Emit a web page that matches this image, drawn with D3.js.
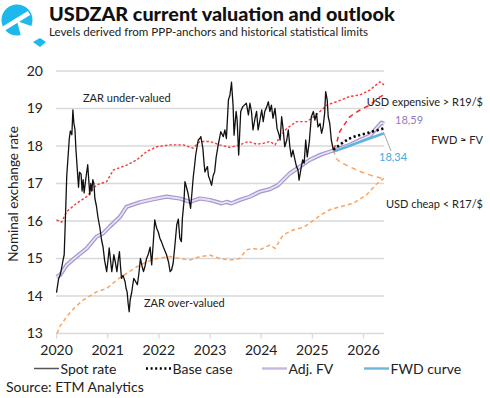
<!DOCTYPE html>
<html><head><meta charset="utf-8">
<script src="https://cdn.jsdelivr.net/npm/d3@7"></script>
<style>
html,body{margin:0;padding:0;background:#fff;}
svg{display:block;font-family:Lato,"Open Sans",sans-serif;}
</style></head>
<body>
<svg id="chart" width="490" height="398"></svg>
<script>
// ---- data (year fraction, value) ----
const yTicks = [13,14,15,16,17,18,19,20];
const xTicks = [2020,2021,2022,2023,2024,2025,2026];
const seriesNames = ["Spot rate","Base case","Adj. FV","FWD curve"];

const spotT = [2020.01,2020.05,2020.09,2020.13,2020.16,2020.18,2020.21,2020.24,2020.26,2020.28,2020.31,2020.33,2020.35,2020.37,2020.39,2020.41,2020.44,2020.46,2020.49,2020.51,2020.53,2020.55,2020.58,2020.60,2020.62,2020.64,2020.66,2020.68,2020.70,2020.72,2020.74,2020.76,2020.79,2020.82,2020.86,2020.89,2020.92,2020.95,2020.99,2021.02,2021.04,2021.07,2021.09,2021.11,2021.13,2021.16,2021.19,2021.22,2021.24,2021.26,2021.28,2021.31,2021.35,2021.37,2021.39,2021.41,2021.43,2021.45,2021.48,2021.50,2021.52,2021.55,2021.59,2021.62,2021.65,2021.68,2021.71,2021.74,2021.77,2021.80,2021.84,2021.87,2021.90,2021.93,2021.95,2021.97,2022.00,2022.03,2022.06,2022.10,2022.13,2022.16,2022.20,2022.23,2022.26,2022.29,2022.32,2022.36,2022.39,2022.42,2022.45,2022.47,2022.50,2022.52,2022.55,2022.58,2022.61,2022.63,2022.66,2022.68,2022.71,2022.73,2022.76,2022.78,2022.81,2022.83,2022.87,2022.89,2022.91,2022.94,2022.96,2022.98,2023.01,2023.04,2023.07,2023.10,2023.13,2023.17,2023.22,2023.27,2023.30,2023.33,2023.37,2023.40,2023.43,2023.46,2023.48,2023.52,2023.54,2023.57,2023.61,2023.65,2023.72,2023.76,2023.79,2023.82,2023.85,2023.89,2023.92,2023.95,2023.98,2024.02,2024.05,2024.08,2024.12,2024.15,2024.18,2024.21,2024.24,2024.28,2024.32,2024.36,2024.38,2024.41,2024.44,2024.47,2024.51,2024.54,2024.57,2024.60,2024.63,2024.67,2024.70,2024.73,2024.75,2024.79,2024.82,2024.85,2024.88,2024.91,2024.95,2024.99,2025.03,2025.06,2025.09,2025.12,2025.16,2025.19,2025.22,2025.25,2025.27,2025.30,2025.32,2025.35,2025.38,2025.42];
const spotV = [14.09,14.45,14.6,14.9,15.1,15.9,17.2,17.8,18.2,18.4,18.3,18.96,18.6,18.45,17.9,17.5,16.9,17.3,17.25,16.8,17.1,16.75,17.1,17.3,17.5,17.1,16.7,17.0,16.8,17.1,17.0,16.6,16.4,16.1,15.8,15.5,15.3,14.95,14.65,15.0,15.28,14.9,14.65,14.85,15.1,14.9,14.65,15.0,15.18,14.8,14.47,14.55,14.38,14.2,14.11,13.8,13.58,13.9,14.1,14.3,14.47,14.4,14.3,14.6,15.0,14.8,14.65,14.8,15.0,15.1,15.3,14.83,15.4,16.03,15.9,15.8,15.7,15.54,15.45,15.3,15.2,15.1,14.9,14.65,14.7,14.88,15.3,15.9,16.05,15.54,15.45,16.07,16.5,17.05,16.9,16.74,16.5,16.34,16.8,17.14,17.5,17.76,18.0,18.16,18.2,18.25,17.94,17.6,17.31,17.4,17.45,17.2,17.09,16.95,17.2,17.31,17.7,18.03,18.38,18.25,18.43,18.2,19.23,19.36,19.7,19.09,18.29,18.92,18.7,17.76,18.92,19.05,19.14,18.83,19.14,18.92,18.43,18.74,18.92,18.43,18.65,18.96,18.65,18.92,19.05,19.18,18.92,19.09,18.74,19.0,18.47,18.29,18.16,18.78,18.43,17.98,18.16,18.43,17.98,17.71,17.89,17.63,17.45,17.36,17.09,17.41,17.63,17.54,18.16,17.71,18.11,18.78,18.92,18.69,18.87,18.51,18.6,18.34,18.51,18.87,19.45,19.23,18.78,18.6,18.16,17.9];

const upperT = [2020.01,2020.11,2020.21,2020.40,2020.60,2020.79,2020.99,2021.12,2021.38,2021.58,2021.77,2021.97,2022.23,2022.49,2022.68,2022.81,2023.01,2023.20,2023.40,2023.59,2023.76,2023.92,2024.05,2024.18,2024.28,2024.38,2024.51,2024.70,2024.90,2025.09,2025.29,2025.48,2025.74,2025.94,2026.13,2026.33,2026.41];
const upperV = [16.03,15.97,16.25,16.47,16.65,16.96,17.05,17.36,17.49,17.63,17.85,17.98,18.03,18.03,17.94,18.12,18.12,18.03,17.96,18.03,18.12,18.05,18.07,18.12,18.03,18.25,18.47,18.65,18.65,18.83,19.09,19.18,19.32,19.36,19.49,19.71,19.63];

const lowerT = [2020.02,2020.08,2020.21,2020.37,2020.53,2020.79,2020.99,2021.19,2021.38,2021.58,2021.77,2021.97,2022.23,2022.42,2022.62,2022.81,2023.01,2023.20,2023.40,2023.59,2023.72,2023.85,2023.98,2024.18,2024.28,2024.44,2024.63,2024.83,2024.96,2025.16,2025.35,2025.55,2025.81,2026.07,2026.26,2026.41];
const lowerV = [13.0,13.2,13.45,13.7,13.89,14.11,14.2,14.43,14.6,14.78,14.91,15.0,15.05,15.0,14.96,15.05,15.09,15.0,14.96,15.0,15.23,15.27,15.23,15.36,15.27,15.63,15.76,15.83,15.94,16.15,16.3,16.38,16.47,16.7,16.98,17.14];

const fvT = [2020.01,2020.08,2020.21,2020.40,2020.60,2020.79,2020.92,2021.05,2021.25,2021.38,2021.64,2021.90,2022.16,2022.42,2022.62,2022.81,2023.01,2023.24,2023.33,2023.43,2023.59,2023.79,2023.98,2024.18,2024.34,2024.57,2024.77,2024.96,2025.16,2025.35,2025.55,2025.74,2025.94,2026.13,2026.26,2026.36,2026.41];
const fvV = [14.51,14.56,14.83,15.05,15.27,15.58,15.67,15.85,16.11,16.38,16.5,16.58,16.65,16.6,16.51,16.6,16.56,16.47,16.51,16.47,16.56,16.65,16.78,16.85,16.96,17.27,17.45,17.63,17.76,17.85,17.94,18.03,18.16,18.27,18.47,18.62,18.59];

const baseT = [2025.42,2025.74,2026.07,2026.41];
const baseV = [17.9,18.2,18.34,18.47];
const fwdT = [2025.42,2026.41];
const fwdV = [17.85,18.34];
const coneUpT = [2025.42,2025.48,2025.55,2025.74,2025.94,2026.13,2026.33,2026.41];
const coneUpV = [17.9,18.07,18.4,18.78,18.96,19.09,19.31,19.36];
const coneLoT = [2025.42,2025.48,2025.74,2026.13,2026.41];
const coneLoV = [17.9,17.67,17.45,17.23,17.12];

// ---- drawing ----
const svg = d3.select("#chart");
const x = d3.scaleLinear().domain([2020, 2026.41]).range([56, 384]);
const y = d3.scaleLinear().domain([13, 20]).range([333.5, 71]);
const zip = (T, V) => T.map((t, i) => [t, V[i]]);
const line = d3.line().x(d => x(d[0])).y(d => y(d[1]));
const smooth = d3.line().x(d => x(d[0])).y(d => y(d[1])).curve(d3.curveMonotoneX);

// logo
const cyan = "#1db8ec";
const logo = svg.append("g");
logo.append("circle").attr("cx", 17).attr("cy", 20).attr("r", 15.5).attr("fill", cyan);
logo.append("path").attr("d", "M17,21 L34,27 L34,40 L22,40 Z").attr("fill", "#fff");
logo.append("path").attr("d", "M3,29 L29,13").attr("stroke", "#fff").attr("stroke-width", 4.5);
logo.append("path").attr("d", "M33,42 L40,38 L46,42 L40,47 Z").attr("fill", cyan);

// titles
svg.append("text").attr("x", 49).attr("y", 21).attr("font-size", 19.8).attr("font-weight", 900).attr("fill", "#111").text("USDZAR current valuation and outlook");
svg.append("text").attr("x", 49).attr("y", 36).attr("font-size", 11.6).attr("fill", "#222").text("Levels derived from PPP-anchors and historical statistical limits");

// grid
svg.append("g").selectAll("line").data(yTicks).join("line")
  .attr("x1", 56).attr("x2", 384).attr("y1", d => y(d)).attr("y2", d => y(d))
  .attr("stroke", "#d9d9d9").attr("stroke-width", 1.3);

// axes
const yAxis = d3.axisLeft(y).tickValues(yTicks).tickSize(0).tickPadding(13).tickFormat(d3.format("d"));
const gy = svg.append("g").attr("transform", "translate(56,0)").call(yAxis);
gy.select(".domain").remove();
gy.selectAll("text").attr("font-size", 14).attr("fill", "#222").attr("font-family", "Lato");

const xAxis = d3.axisBottom(x).tickValues(xTicks).tickSize(5).tickPadding(7).tickFormat(d3.format("d"));
const gx = svg.append("g").attr("transform", `translate(0,${y(13)})`).call(xAxis);
gx.select(".domain").remove();
gx.selectAll("line").attr("stroke", "#d9d9d9").attr("stroke-width", 1.3);
gx.selectAll("text").attr("font-size", 14).attr("fill", "#222").attr("font-family", "Lato");

svg.append("text").attr("transform", "translate(18,194) rotate(-90)").attr("text-anchor", "middle")
  .attr("font-size", 13.5).attr("fill", "#222").text("Nominal exchange rate");

// bands
svg.append("path").datum(zip(lowerT, lowerV)).attr("d", line).attr("fill", "none")
  .attr("stroke", "#f8a563").attr("stroke-width", 1.5).attr("stroke-dasharray", "4,3");
svg.append("path").datum(zip(upperT, upperV)).attr("d", line).attr("fill", "none")
  .attr("stroke", "#f53b3b").attr("stroke-width", 1.4).attr("stroke-dasharray", "2.5,2");

// Adj FV
const fvPath = zip(fvT, fvV);
svg.append("path").datum(fvPath).attr("d", line).attr("fill", "none")
  .attr("stroke", "#a697cf").attr("stroke-width", 4.2).attr("stroke-linejoin", "round");
svg.append("path").datum(fvPath).attr("d", line).attr("fill", "none")
  .attr("stroke", "#e8e1f4").attr("stroke-width", 1.8).attr("stroke-linejoin", "round");

// cone
svg.append("path").datum(zip(coneLoT, coneLoV)).attr("d", smooth).attr("fill", "none")
  .attr("stroke", "#f8a563").attr("stroke-width", 1.5).attr("stroke-dasharray", "5,4");
svg.append("path").datum(zip(coneUpT, coneUpV)).attr("d", line).attr("fill", "none")
  .attr("stroke", "#ff2b2b").attr("stroke-width", 1.5).attr("stroke-dasharray", "5,4");

// spot
svg.append("path").datum(zip(spotT, spotV)).attr("d", line).attr("fill", "none")
  .attr("stroke", "#111").attr("stroke-width", 1.3).attr("stroke-linejoin", "round");

// FWD curve
svg.append("path").datum(zip(fwdT, fwdV)).attr("d", line).attr("fill", "none")
  .attr("stroke", "#5fb3dd").attr("stroke-width", 2.6);
// base case
svg.append("path").datum(zip(baseT, baseV)).attr("d", smooth).attr("fill", "none")
  .attr("stroke", "#000").attr("stroke-width", 2.6).attr("stroke-dasharray", "2.2,2.6");

// annotations
const ann = svg.append("g").attr("font-size", 11).attr("fill", "#222");
ann.append("text").attr("x", 83).attr("y", 102).text("ZAR under-valued");
ann.append("text").attr("x", 144).attr("y", 307).text("ZAR over-valued");
ann.append("text").attr("x", 483).attr("y", 106).attr("text-anchor", "end").text("USD expensive > R19/$");
ann.append("text").attr("x", 483).attr("y", 144).attr("text-anchor", "end").text("FWD ≈ FV");
ann.append("text").attr("x", 483).attr("y", 208).attr("text-anchor", "end").text("USD cheap < R17/$");
ann.append("text").attr("x", 395).attr("y", 124).attr("fill", "#8e7cc3").text(d3.format(".2f")(fvV[fvV.length-1]).replace(".", ","));
ann.append("text").attr("x", 379).attr("y", 161).attr("fill", "#4aa8dc").text(d3.format(".2f")(fwdV[fwdV.length-1]).replace(".", ","));
svg.append("line").attr("x1", x(fwdT[1])).attr("y1", y(fwdV[1])).attr("x2", 391).attr("y2", 151)
  .attr("stroke", "#a6a6a6").attr("stroke-width", 1);

// legend
const lg = svg.append("g").attr("font-size", 14).attr("fill", "#222");
const legY = 368.5;
const legItems = [
  {x: 34, stroke: "#555", w: 1.5, dash: null},
  {x: 146, stroke: "#000", w: 2.4, dash: "2,2.6"},
  {x: 262, stroke: "#c5b6e2", w: 2.4, dash: null},
  {x: 364, stroke: "#6fb6dc", w: 2.4, dash: null}
];
legItems.forEach((it, i) => {
  lg.append("line").attr("x1", it.x).attr("x2", it.x + 25).attr("y1", legY).attr("y2", legY)
    .attr("stroke", it.stroke).attr("stroke-width", it.w).attr("stroke-dasharray", it.dash);
  lg.append("text").attr("x", it.x + 26.5).attr("y", legY + 5).text(seriesNames[i]);
});
svg.append("text").attr("x", 6).attr("y", 392).attr("font-size", 14).attr("fill", "#222").text("Source: ETM Analytics");
</script>
</body></html>
